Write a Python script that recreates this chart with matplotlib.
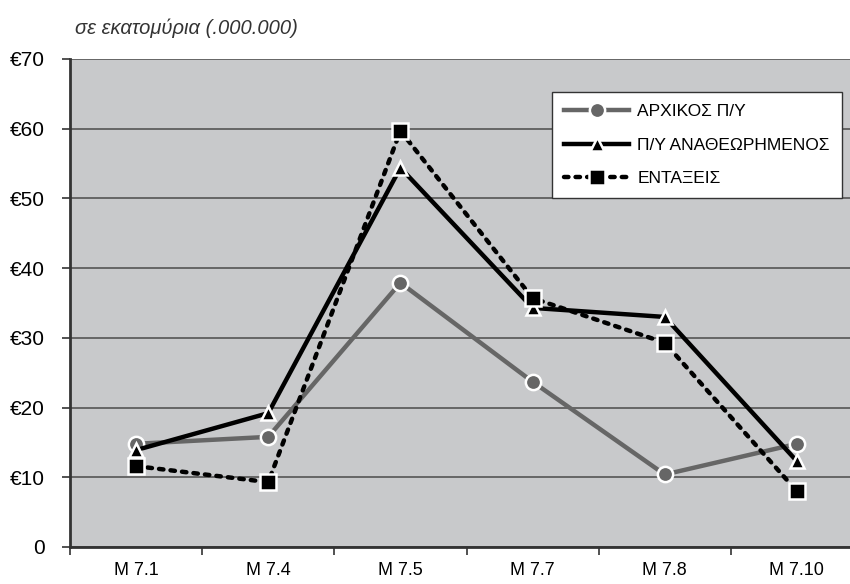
import numpy as np
import matplotlib.pyplot as plt

# data (millions of euro)
measures = ["M 7.1", "M 7.4", "M 7.5", "M 7.7", "M 7.8", "M 7.10"]
initial_budget = [14.8, 15.8, 37.9, 23.7, 10.4, 14.8]
revised_budget = [13.9, 19.2, 54.4, 34.3, 33.0, 12.3]
approvals = [11.6, 9.3, 59.7, 35.7, 29.3, 8.0]

series_labels = ["ΑΡΧΙΚΟΣ Π/Υ", "Π/Υ ΑΝΑΘΕΩΡΗΜΕΝΟΣ", "ΕΝΤΑΞΕΙΣ"]
y_ticks = [0, 10, 20, 30, 40, 50, 60, 70]
y_labels = ["0"] + ["€%d" % v for v in y_ticks[1:]]

plt.rcParams['font.family'] = ['Liberation Sans', 'DejaVu Sans']

fig = plt.figure(figsize=(8.5, 5.84), dpi=100)
ax = fig.add_axes([70 / 850, 1 - 547 / 584, 793 / 850, 488 / 584])
ax.set_facecolor("#c8c9cb")

x = np.arange(len(measures))

ax.plot(x, initial_budget, color="#666666", lw=3.2, marker="o", ms=11,
        mfc="#666666", mec="white", mew=1.8, label=series_labels[0], zorder=3)
ax.plot(x, revised_budget, color="black", lw=3.2, marker="^", ms=10,
        mfc="black", mec="white", mew=1.8, label=series_labels[1], zorder=4)
ax.plot(x, approvals, color="black", lw=3.2, marker="s", ms=11,
        mfc="black", mec="white", mew=1.8, label=series_labels[2], zorder=5,
        linestyle=(0, (1.0, 1.6)), dash_capstyle="round")

ax.set_xlim(-0.5, len(measures) - 0.5)
ax.set_ylim(0, 70)
ax.set_yticks(y_ticks)
ax.set_yticklabels(y_labels, fontsize=15)
ax.set_xticks(x)
ax.set_xticklabels(measures, fontsize=13)
ax.set_xticks(np.arange(len(measures) + 1) - 0.5, minor=True)
ax.tick_params(axis="x", which="major", length=0, pad=11)
ax.tick_params(axis="x", which="minor", length=6, width=1.2, color="#333333")
ax.tick_params(axis="y", length=6, width=1.2, color="#333333", pad=12)

ax.yaxis.grid(True, color="#666666", lw=1.4)
ax.set_axisbelow(True)
for side in ["top", "right"]:
    ax.spines[side].set_visible(False)
for side in ["left", "bottom"]:
    ax.spines[side].set_color("#333333")
    ax.spines[side].set_linewidth(2)

leg = ax.legend(loc="upper right", bbox_to_anchor=((842 - 70) / 793, 1 - 33 / 488),
                fontsize=12.5, frameon=True, fancybox=False, handlelength=3.7,
                borderpad=0.7, labelspacing=1.05, handletextpad=0.5, borderaxespad=0)
leg.get_frame().set_edgecolor("#333333")
leg.get_frame().set_linewidth(1)
leg.get_frame().set_facecolor("white")
leg.get_frame().set_alpha(1)

fig.text(75 / 850, 1 - 28 / 584, "σε εκατομύρια (.000.000)", fontsize=14.5,
         style="italic", color="#333333", va="center")

fig.savefig("out.png", dpi=100)
